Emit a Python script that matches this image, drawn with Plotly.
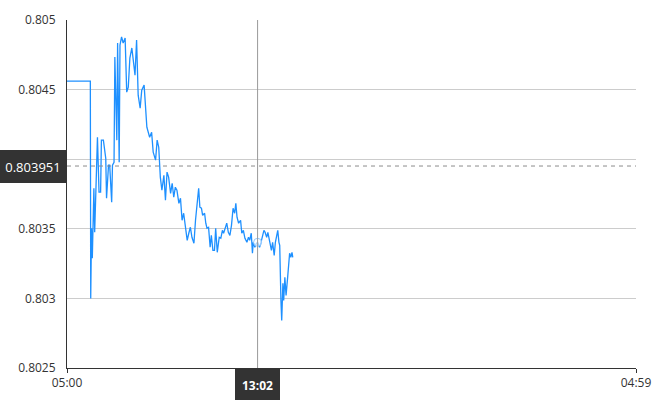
import pandas as pd
import plotly.graph_objects as go

# ---- data ----
times = ["05:00", "05:59", "06:00", "06:02", "06:04", "06:06", "06:08", "06:10", "06:17", "06:21",
         "06:25", "06:27", "06:32", "06:38", "06:40", "06:45", "06:48", "06:53", "06:55", "06:59",
         "07:01", "07:06", "07:08", "07:12", "07:14", "07:18", "07:22", "07:27", "07:31", "07:35",
         "07:39", "07:44", "07:48", "07:52", "07:56", "08:00", "08:05", "08:09", "08:15", "08:18",
         "08:22", "08:29", "08:34", "08:38", "08:44", "08:48", "08:52", "08:56", "09:00", "09:05",
         "09:09", "09:13", "09:17", "09:22", "09:26", "09:30", "09:34", "09:38", "09:43", "09:47",
         "09:51", "09:55", "10:00", "10:04", "10:08", "10:12", "10:16", "10:21", "10:25", "10:29",
         "10:33", "10:36", "10:40", "10:43", "10:48", "10:51", "10:54", "10:58", "11:02", "11:05",
         "11:09", "11:13", "11:16", "11:20", "11:25", "11:29", "11:33", "11:36", "11:41", "11:44",
         "11:48", "11:52", "11:56", "12:00", "12:04", "12:07", "12:10", "12:14", "12:19", "12:22",
         "12:26", "12:30", "12:35", "12:39", "12:42", "12:46", "12:49", "12:51", "12:55", "12:59",
         "13:02", "13:07", "13:10", "13:14", "13:18", "13:21", "13:25", "13:28", "13:33", "13:37",
         "13:40", "13:44", "13:47", "13:51", "13:53", "13:56", "13:58", "14:01", "14:03", "14:06",
         "14:08", "14:11", "14:14", "14:18", "14:21", "14:23", "14:26", "14:29", "14:31"]
prices = [0.804561, 0.804561, 0.803000, 0.803504, 0.803288, 0.803504, 0.803791, 0.803475, 0.804158, 0.803763,
          0.803763, 0.804137, 0.804137, 0.804007, 0.803719, 0.803957, 0.803957, 0.803691, 0.803957, 0.803978,
          0.804734, 0.804137, 0.804835, 0.803978, 0.804820, 0.804878, 0.804835, 0.804871, 0.804482, 0.804518,
          0.804727, 0.804799, 0.804698, 0.804604, 0.804856, 0.804460, 0.804367, 0.804496, 0.804532, 0.804424,
          0.804230, 0.804158, 0.804194, 0.804050, 0.803993, 0.804137, 0.804086, 0.803871, 0.803777, 0.803885,
          0.803705, 0.803907, 0.803871, 0.803755, 0.803827, 0.803727, 0.803799, 0.803777, 0.803683, 0.803719,
          0.803561, 0.803612, 0.803511, 0.803417, 0.803468, 0.803511, 0.803439, 0.803396, 0.803561, 0.803705,
          0.803791, 0.803655, 0.803648, 0.803597, 0.803612, 0.803540, 0.803504, 0.803511, 0.803367, 0.803453,
          0.803345, 0.803345, 0.803504, 0.803331, 0.803439, 0.803432, 0.803489, 0.803468, 0.803511, 0.803540,
          0.803475, 0.803453, 0.803525, 0.803648, 0.803612, 0.803683, 0.803583, 0.803540, 0.803561, 0.803468,
          0.803489, 0.803432, 0.803403, 0.803439, 0.803417, 0.803468, 0.803324, 0.803403, 0.803367, 0.803396,
          0.803403, 0.803367, 0.803396, 0.803453, 0.803489, 0.803475, 0.803439, 0.803475, 0.803396, 0.803345,
          0.803403, 0.803309, 0.803403, 0.803475, 0.803489, 0.803403, 0.803381, 0.802986, 0.802842, 0.803108,
          0.802986, 0.803151, 0.803022, 0.803151, 0.803295, 0.803324, 0.803295, 0.803331, 0.803295]

y_ticks = [0.8025, 0.803, 0.8035, 0.804, 0.8045, 0.805]
y_tick_text = ["0.8025", "0.803", "0.8035", "", "0.8045", "0.805"]  # 0.804 hidden under the price label
x_start, x_end = "05:00", "04:59"
ref_price = 0.803951
ref_price_label = "0.803951"
cursor_time = "13:02"
cursor_label = "13:02"

base = pd.Timestamp("2024-01-01")
def to_dt(hhmm, next_day=False):
    t = base + pd.Timedelta(hours=int(hhmm[:2]), minutes=int(hhmm[3:]))
    return t + pd.Timedelta(days=1) if next_day else t

xs = [to_dt(t) for t in times]
x0 = to_dt(x_start)
x1 = to_dt(x_end, next_day=True)
xc = to_dt(cursor_time)
cursor_price = prices[times.index(cursor_time)]

fig = go.Figure()
fig.add_trace(go.Scatter(x=xs, y=prices, mode="lines",
                         line=dict(color="#1e90ff", width=1.3), hoverinfo="skip"))
fig.add_trace(go.Scatter(x=[xc], y=[cursor_price], mode="markers",
                         marker=dict(size=8, color="rgba(255,255,255,0.6)",
                                     line=dict(color="#8fc8ff", width=1)),
                         hoverinfo="skip"))

font = "Open Sans, Noto Sans, sans-serif"
fig.update_layout(
    width=670, height=400,
    margin=dict(l=67, r=34, t=20, b=32, autoexpand=False),
    paper_bgcolor="white", plot_bgcolor="white",
    showlegend=False,
    hovermode=False,
    font=dict(family=font, size=12, color="#333"),
    xaxis=dict(range=[x0, x1], tickvals=[x0, x1], tickformat="%H:%M",
               showgrid=False, zeroline=False, showline=True, linecolor="#333", linewidth=1,
               ticks="outside", ticklen=4, tickcolor="#333",
               tickfont=dict(size=12, color="#333")),
    yaxis=dict(range=[0.8025, 0.805], tickvals=y_ticks, ticktext=y_tick_text,
               showgrid=True, gridcolor="#cccccc", gridwidth=1, zeroline=False,
               showline=True, linecolor="#333", linewidth=1, ticks="",
               ticklabelstandoff=8, tickfont=dict(size=12, color="#333")),
    shapes=[
        dict(type="line", xref="paper", x0=0, x1=1, yref="y", y0=ref_price, y1=ref_price,
             line=dict(color="#8c8c8c", width=1, dash="4px,4px")),
        dict(type="line", xref="x", x0=xc, x1=xc, yref="paper", y0=0, y1=1,
             line=dict(color="#999", width=1)),
    ],
    annotations=[
        dict(xref="paper", x=0, xanchor="right", xshift=-1, yref="y", y=ref_price, yanchor="middle",
             text=ref_price_label, showarrow=False, width=66, height=33,
             bgcolor="#333333", borderpad=0, borderwidth=0,
             font=dict(family=font, size=13, color="white")),
        dict(xref="x", x=xc, xanchor="center", yref="paper", y=0, yanchor="top", yshift=0,
             text="<b>" + cursor_label + "</b>", showarrow=False, width=45, height=34,
             bgcolor="#333333", borderpad=0, borderwidth=0,
             font=dict(family=font, size=12, color="white")),
    ],
)

fig.write_html("out.html", config={"displayModeBar": False},
               post_script="document.body.style.margin='0';")
